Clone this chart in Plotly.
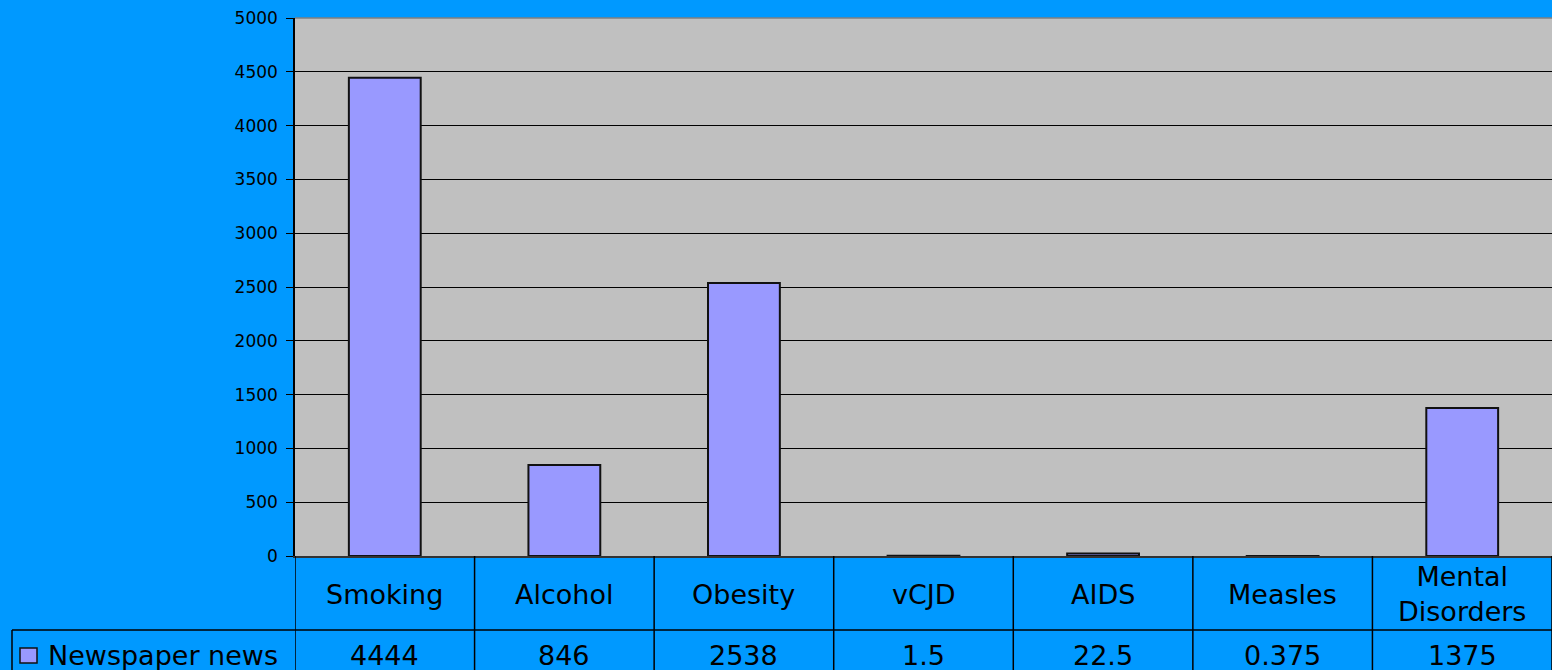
import plotly.graph_objects as go

categories = ["Smoking", "Alcohol", "Obesity", "vCJD", "AIDS", "Measles", "Mental<br>Disorders"]
values = [4444, 846, 2538, 1.5, 22.5, 0.375, 1375]
value_labels = ["4444", "846", "2538", "1.5", "22.5", "0.375", "1375"]
series_name = "Newspaper news"
y_ticks = [0, 500, 1000, 1500, 2000, 2500, 3000, 3500, 4000, 4500, 5000]

W, H = 1552, 670
L, R, T, B = 295, 0, 18, 114
plot_h = H - T - B
plot_w = W - L - R

def py(px):  # pixel y -> paper y
    return (H - B - px) / plot_h

def pxp(px):  # pixel x -> paper x
    return (px - L) / plot_w

FONT = "DejaVu Sans, Liberation Sans, Arial, sans-serif"
BG = "#0099FF"
BAR = "#9999FF"
TS = 27

xs = list(range(len(categories)))
fig = go.Figure()
fig.add_trace(go.Bar(
    x=xs, y=values, width=0.4,
    marker=dict(color=BAR, line=dict(color="#111111", width=2)),
    showlegend=False, hoverinfo="skip"
))

shapes = []
annotations = []
row1 = py(630)
bottom = py(672)
LW = 1.5
for i in range(len(categories) + 1):
    shapes.append(dict(type="line", xref="x", yref="paper", x0=i - 0.5, x1=i - 0.5,
                       y0=0, y1=bottom, line=dict(color="#000000", width=LW)))
shapes.append(dict(type="line", xref="paper", yref="paper", x0=pxp(12), x1=1.0,
                   y0=row1, y1=row1, line=dict(color="#000000", width=LW)))
shapes.append(dict(type="line", xref="paper", yref="paper", x0=pxp(12), x1=pxp(12),
                   y0=row1, y1=bottom, line=dict(color="#000000", width=LW)))
shapes.append(dict(type="rect", xref="paper", yref="paper", x0=pxp(20), x1=pxp(37),
                   y0=py(663), y1=py(648), fillcolor=BAR, line=dict(color="#111111", width=1.5)))
shapes.append(dict(type="line", xref="paper", yref="paper", x0=0, x1=1, y0=1, y1=1,
                   line=dict(color="#808080", width=1.5)))

for i, (c, v) in enumerate(zip(categories, value_labels)):
    annotations.append(dict(x=i, y=py(594), xref="x", yref="paper", text=c, showarrow=False,
                            font=dict(size=TS, color="#000000", family=FONT),
                            xanchor="center", yanchor="middle"))
    annotations.append(dict(x=i, y=py(655), xref="x", yref="paper", text=v, showarrow=False,
                            font=dict(size=TS, color="#000000", family=FONT),
                            xanchor="center", yanchor="middle"))
annotations.append(dict(x=pxp(46), y=py(655), xref="paper", yref="paper", text=series_name,
                        showarrow=False, font=dict(size=TS, color="#000000", family=FONT),
                        xanchor="left", yanchor="middle"))

fig.update_layout(
    width=W, height=H,
    margin=dict(l=L, r=R, t=T, b=B, pad=0),
    paper_bgcolor=BG, plot_bgcolor="#C0C0C0",
    font=dict(family=FONT, color="#000000"),
    shapes=shapes, annotations=annotations,
    xaxis=dict(range=[-0.5, len(categories) - 0.5], showticklabels=False, showgrid=False,
               zeroline=False, showline=True, linecolor="#333333", linewidth=1.5, ticks=""),
    yaxis=dict(range=[0, 5000], tickvals=y_ticks, showgrid=True, gridcolor="#000000", gridwidth=1,
               zeroline=False, showline=True, linecolor="#000000", linewidth=1.5,
               ticks="outside", ticklen=7, tickcolor="#000000", ticklabelstandoff=5,
               tickfont=dict(size=17, color="#000000", family=FONT)),
    bargap=0.6,
)

fig.write_html("out.html")
